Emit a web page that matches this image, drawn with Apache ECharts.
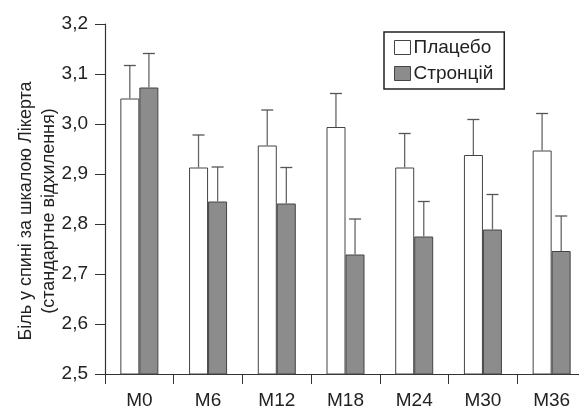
<!DOCTYPE html>
<html>
<head>
<meta charset="utf-8">
<script src="https://cdn.jsdelivr.net/npm/echarts@6/dist/echarts.min.js"></script>
<style>html,body{margin:0;padding:0;background:#fff;}#c{width:579px;height:410px;}</style>
</head>
<body>
<div id="c"></div>
<script>
const categories = ['M0', 'M6', 'M12', 'M18', 'M24', 'M30', 'M36'];
const placebo = [3.051, 2.913, 2.957, 2.994, 2.913, 2.938, 2.947];
const placeboErr = [0.066, 0.065, 0.071, 0.067, 0.068, 0.071, 0.074];
const strontium = [3.073, 2.845, 2.841, 2.739, 2.775, 2.789, 2.746];
const strontiumErr = [0.068, 0.069, 0.072, 0.071, 0.070, 0.070, 0.070];
const seriesNames = ['Плацебо', 'Стронцій'];
const yTicks = [2.5, 2.6, 2.7, 2.8, 2.9, 3.0, 3.1, 3.2];
const yTitle = 'Біль у спині за шкалою Лікерта\n(стандартне відхилення)';

const FONT = '"Liberation Sans Narrow", "Arial Narrow", "Liberation Sans", sans-serif';
const chart = echarts.init(document.getElementById('c'));

function errData(vals, errs) {
  return vals.map((v, i) => [i, v + errs[i], v]);
}
function errRender(side) {
  return function (params, api) {
    const top = api.coord([api.value(0), api.value(1)]);
    const base = api.coord([api.value(0), api.value(2)]);
    const bw = api.size([1, 0])[0];
    const x = top[0] + side * bw * 0.139;
    const cap = 6;
    return {
      type: 'group',
      children: [
        { type: 'line', shape: { x1: x, y1: base[1], x2: x, y2: top[1] }, style: { stroke: '#666', lineWidth: 1.3 } },
        { type: 'line', shape: { x1: x - cap, y1: top[1], x2: x + cap, y2: top[1] }, style: { stroke: '#555', lineWidth: 1.3 } }
      ]
    };
  };
}

chart.setOption({
  animation: false,
  backgroundColor: '#fff',
  grid: { left: 105, top: 24, width: 481, height: 350, outerBoundsMode: 'none' },
  legend: {
    left: 384, top: 32, orient: 'vertical',
    data: [
      { name: seriesNames[0], itemStyle: { color: '#fff', borderColor: '#444', borderWidth: 1 } },
      { name: seriesNames[1], itemStyle: { color: '#8c8c8c', borderColor: '#444', borderWidth: 1 } }
    ],
    icon: 'rect', itemWidth: 16, itemHeight: 14, itemGap: 7,
    padding: [6, 11, 6, 10],
    borderColor: '#222', borderWidth: 1.5,
    textStyle: { fontFamily: FONT, fontSize: 19, color: '#222', padding: [0, 0, 0, -2] }
  },
  xAxis: {
    type: 'category', data: categories,
    axisLine: { lineStyle: { color: '#333', width: 1.2 } },
    axisTick: { show: true, length: 10, lineStyle: { color: '#333' } },
    axisLabel: { fontFamily: FONT, fontSize: 19, color: '#222', margin: 17 }
  },
  yAxis: {
    type: 'value', min: 2.5, max: 3.2, interval: 0.1,
    splitLine: { show: false },
    axisLine: { show: true, lineStyle: { color: '#333', width: 1.2 } },
    axisTick: { show: true, length: 10, lineStyle: { color: '#333' } },
    axisLabel: {
      fontFamily: FONT, fontSize: 19, color: '#222', margin: 17,
      formatter: v => yTicks.includes(+v.toFixed(1)) ? v.toFixed(1).replace('.', ',') : ''
    },
    name: yTitle, nameLocation: 'middle', nameRotate: 90, nameGap: 44, nameMoveOverlap: false,
    nameTextStyle: { fontFamily: FONT, fontSize: 18, color: '#222', lineHeight: 23, align: 'center', padding: [0, 24, 0, 0] }
  },
  series: [
    {
      name: seriesNames[0], type: 'bar', data: placebo, barWidth: 19, barGap: '0%',
      itemStyle: { color: '#fff', borderColor: '#444', borderWidth: 1 }
    },
    {
      name: seriesNames[1], type: 'bar', data: strontium, barWidth: 19,
      itemStyle: { color: '#8c8c8c', borderColor: '#444', borderWidth: 1 }
    },
    { type: 'custom', renderItem: errRender(-1), data: errData(placebo, placeboErr), z: 5 },
    { type: 'custom', renderItem: errRender(1), data: errData(strontium, strontiumErr), z: 5 }
  ]
});
</script>
</body>
</html>
